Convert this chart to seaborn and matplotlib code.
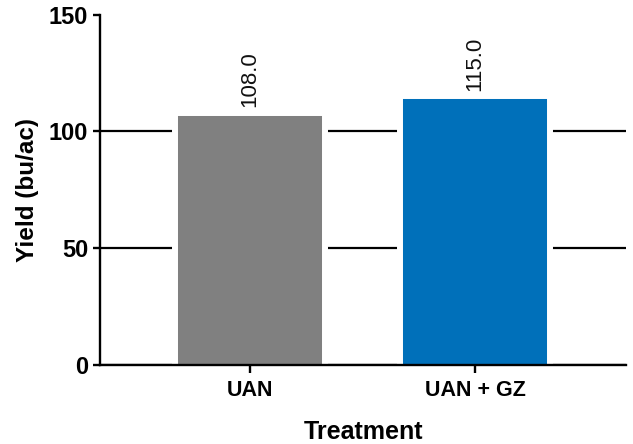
import numpy as np
import pandas as pd
import seaborn as sns
import matplotlib.pyplot as plt
from matplotlib.patches import Rectangle

# values
treatments = ['UAN', 'UAN + GZ']
yields = [108.0, 115.0]
bar_colors = ['#808080', '#0070BA']

df = pd.DataFrame({'Treatment': treatments, 'Yield': yields})

sns.set_style('ticks')
plt.rcParams['font.family'] = ['Liberation Sans', 'DejaVu Sans']
for key in ['text.color', 'axes.labelcolor', 'xtick.color', 'ytick.color']:
    plt.rcParams[key] = 'black'

fig, ax = plt.subplots(figsize=(6.33, 4.44), dpi=100)
fig.subplots_adjust(left=0.158, right=0.989, bottom=0.178, top=0.967)

# bars with a white border so the gridlines stop short of them
sns.barplot(data=df, x='Treatment', y='Yield', hue='Treatment', palette=bar_colors,
            legend=False, width=0.667, edgecolor='white', linewidth=4.3,
            saturation=1, ax=ax, zorder=3)

# value labels above bars
for cont in ax.containers:
    ax.bar_label(cont, fmt='%.1f', rotation=90, padding=4, fontsize=16, color='#111111')

# fill the white border at the foot of the bars so they sit on the axis
n_before = len(ax.patches)
sns.barplot(data=df, x='Treatment', y='Yield', hue='Treatment', palette=bar_colors,
            legend=False, width=0.64, linewidth=0, saturation=1, ax=ax, zorder=3.5)
foot = Rectangle((0, 0), 1, 0.05, transform=ax.transAxes)
for p in ax.patches[n_before:]:
    p.set_clip_path(foot)

ax.set_ylim(0, 150)
ax.set_yticks([0, 50, 100, 150])
ax.set_xlim(-0.667, 1.671)

# black gridlines behind bars, none at the top
ax.yaxis.grid(True, color='black', linewidth=1.6)
ax.set_axisbelow(True)
ax.yaxis.get_gridlines()[-1].set_visible(False)

for side in ['top', 'right']:
    ax.spines[side].set_visible(False)
for side in ['left', 'bottom']:
    ax.spines[side].set_linewidth(1.7)
    ax.spines[side].set_color('black')
    ax.spines[side].set_zorder(5)

ax.tick_params(axis='y', length=5, width=1.7, pad=3.5, labelsize=17, color='black')
ax.tick_params(axis='x', length=6, width=1.7, pad=5, labelsize=15.5, color='black')
for lbl in ax.get_xticklabels() + ax.get_yticklabels():
    lbl.set_fontweight('bold')

ax.set_ylabel('Yield (bu/ac)', fontsize=17.5, fontweight='bold', labelpad=7)
ax.set_xlabel('Treatment', fontsize=18, fontweight='bold', labelpad=13.5)

plt.savefig('out.png', dpi=100)
